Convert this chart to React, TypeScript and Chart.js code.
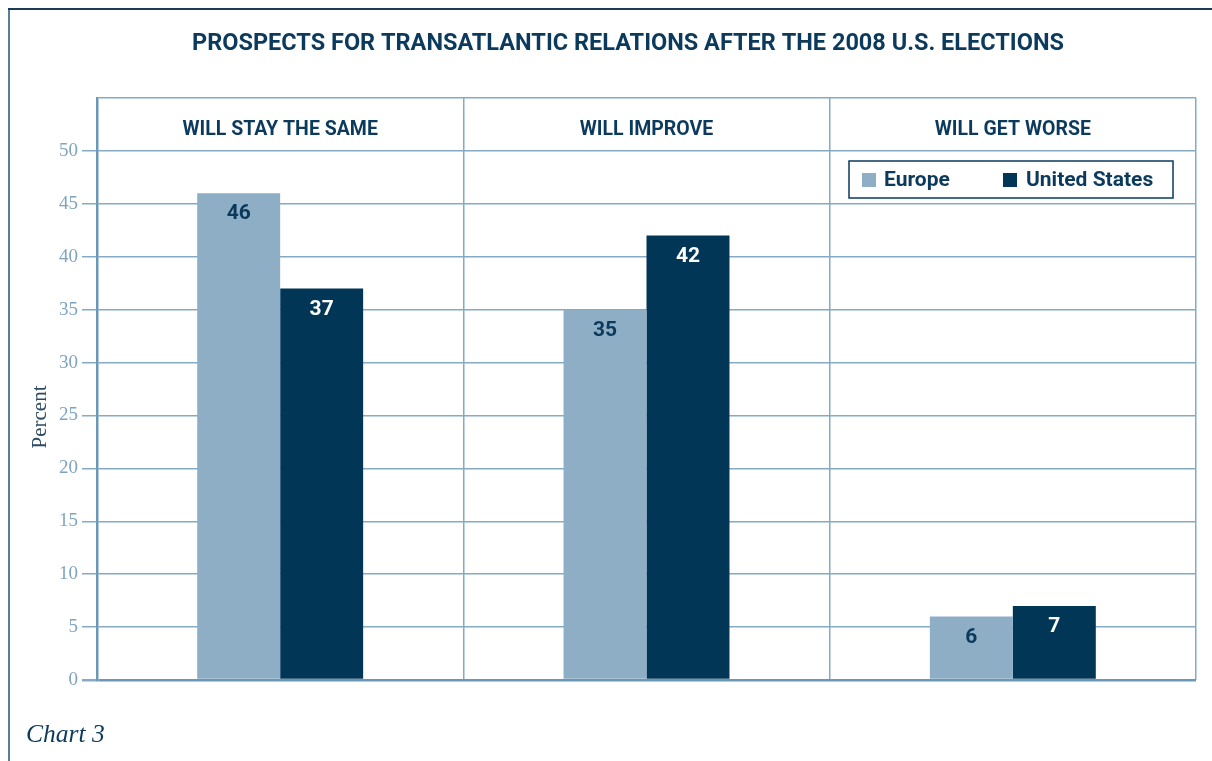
import React, { useEffect, useRef } from "react";
import { Chart, registerables } from "chart.js";

Chart.register(...registerables);

const categories = ["WILL STAY THE SAME", "WILL IMPROVE", "WILL GET WORSE"];
const europe = [46, 35, 6];
const unitedStates = [37, 42, 7];
const seriesNames = ["Europe", "United States"];
const yMax = 55;
const yStep = 5;
const lastLabel = 50;
const chartTitle = "PROSPECTS FOR TRANSATLANTIC RELATIONS AFTER THE 2008 U.S. ELECTIONS";
const yTitle = "Percent";
const caption = "Chart 3";

const NAVY = "#0b3a5c";
const EUROPE_C = "#8eaec5";
const US_C = "#023657";
const GRID = "#84aac6";
const AXIS = "#6b98b7";
const SANS = "Roboto, 'Liberation Sans', sans-serif";

export default function App() {
  const ref = useRef<HTMLCanvasElement>(null);
  useEffect(() => {
    const canvas = ref.current!;
    const deco = {
      id: "deco",
      afterDraw(chart: any) {
        const ctx = chart.ctx;
        const ca = chart.chartArea;
        ctx.save();
        // outer frame
        ctx.lineWidth = 2;
        ctx.strokeStyle = "#5b7f97";
        ctx.beginPath();
        ctx.moveTo(9, 8);
        ctx.lineTo(9, 761);
        ctx.stroke();
        ctx.strokeStyle = "#1b3b57";
        ctx.beginPath();
        ctx.moveTo(8, 9);
        ctx.lineTo(1212, 9);
        ctx.stroke();
        // title
        ctx.fillStyle = NAVY;
        ctx.textAlign = "center";
        ctx.textBaseline = "middle";
        ctx.font = `bold 23.5px ${SANS}`;
        ctx.fillText(chartTitle, 628, 44);
        // category headers
        const xs = chart.scales.x;
        const ys = chart.scales.y;
        ctx.font = `bold 19.5px ${SANS}`;
        const headY = (ys.getPixelForValue(yMax) + ys.getPixelForValue(lastLabel)) / 2 + 6;
        categories.forEach((c, i) => {
          ctx.fillText(c, xs.getPixelForValue(i), headY);
        });
        // y title
        ctx.save();
        ctx.translate(40, (ca.top + ca.bottom) / 2 + 28);
        ctx.rotate(-Math.PI / 2);
        ctx.font = "21px 'Liberation Serif', serif";
        ctx.fillStyle = "#2c4a63";
        ctx.fillText(yTitle, 0, 0);
        ctx.restore();
        // caption
        ctx.textAlign = "left";
        ctx.font = "italic 25.5px 'Liberation Serif', serif";
        ctx.fillStyle = NAVY;
        ctx.fillText(caption, 26, 735);
        // legend
        ctx.fillStyle = "#ffffff";
        ctx.fillRect(849, 161, 324, 37);
        ctx.strokeStyle = NAVY;
        ctx.lineWidth = 1.5;
        ctx.strokeRect(849, 161, 324, 37);
        ctx.font = `bold 21px ${SANS}`;
        ctx.textBaseline = "middle";
        ctx.fillStyle = EUROPE_C;
        ctx.fillRect(862, 173, 14, 14);
        ctx.fillStyle = NAVY;
        ctx.fillText(seriesNames[0], 884, 181);
        ctx.fillStyle = US_C;
        ctx.fillRect(1003, 173, 14, 14);
        ctx.fillStyle = NAVY;
        ctx.fillText(seriesNames[1], 1026, 181);
        // data labels
        ctx.textAlign = "center";
        ctx.font = `bold 21px ${SANS}`;
        chart.data.datasets.forEach((ds: any, di: number) => {
          const meta = chart.getDatasetMeta(di);
          meta.data.forEach((el: any, i: number) => {
            ctx.fillStyle = di === 0 ? NAVY : "#ffffff";
            ctx.fillText(String(ds.data[i]), el.x, el.y + 21);
          });
        });
        ctx.restore();
      },
    };
    const chart = new Chart(canvas, {
      type: "bar",
      data: {
        labels: categories,
        datasets: [
          { label: seriesNames[0], data: europe, backgroundColor: EUROPE_C, borderWidth: 0 },
          { label: seriesNames[1], data: unitedStates, backgroundColor: US_C, borderWidth: 0 },
        ],
      },
      options: {
        responsive: false,
        animation: false,
        layout: { padding: { left: 0, top: 98, right: 16, bottom: 81 } },
        plugins: { legend: { display: false }, title: { display: false }, tooltip: { enabled: false } },
        datasets: { bar: { barPercentage: 1, categoryPercentage: 0.453 } },
        scales: {
          x: {
            type: "category",
            offset: true,
            grid: { offset: true, color: GRID, lineWidth: 1.5, drawTicks: false },
            border: { display: false },
            ticks: { display: false },
            afterFit: (s: any) => { s.height = 0; },
          },
          y: {
            min: 0,
            max: yMax,
            ticks: {
              stepSize: yStep,
              padding: 4,
              color: "#7fa3c0",
              font: { family: "'Liberation Serif', serif", size: 19 },
              callback: (v: any) => (v > lastLabel ? "" : String(v)),
            },
            grid: {
              color: (c: any) => (c.tick && c.tick.value === 0 ? AXIS : GRID),
              lineWidth: (c: any) => (c.tick && c.tick.value === 0 ? 2.5 : 1.5),
              tickColor: (c: any) => (c.tick && c.tick.value > lastLabel ? "rgba(0,0,0,0)" : GRID),
              tickLength: 15,
            },
            border: { display: true, color: AXIS, width: 2.5 },
            afterFit: (s: any) => { s.width = 97; },
          },
        },
      },
      plugins: [deco],
    });
    return () => chart.destroy();
  }, []);
  return (
    <canvas
      ref={ref}
      width={1212}
      height={761}
      style={{ position: "fixed", left: 0, top: 0, width: 1212, height: 761 }}
    />
  );
}
